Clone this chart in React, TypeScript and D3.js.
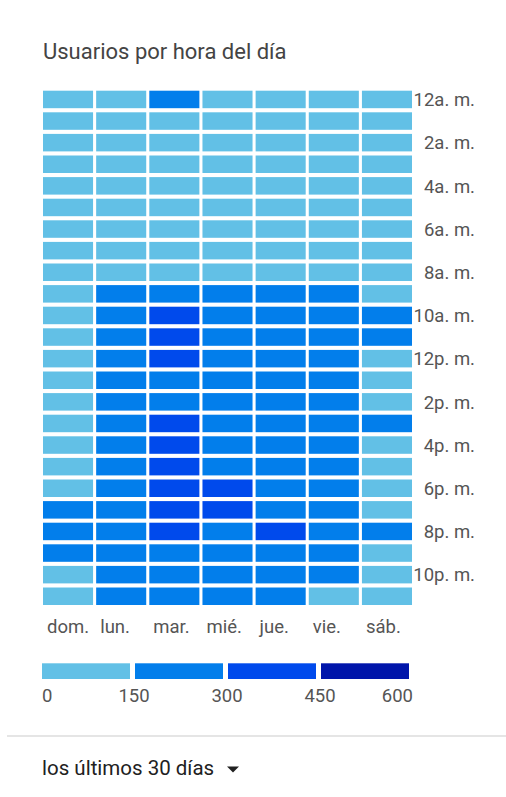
import React from 'react';
import * as d3 from 'd3';

// days of the week, Sunday first
const days = ['dom.', 'lun.', 'mar.', 'mié.', 'jue.', 'vie.', 'sáb.'];

// hour labels shown on the right, every second row
const hourLabels = [
  '12a. m.', '', '2a. m.', '', '4a. m.', '', '6a. m.', '', '8a. m.', '', '10a. m.', '',
  '12p. m.', '', '2p. m.', '', '4p. m.', '', '6p. m.', '', '8p. m.', '', '10p. m.', '',
];

// users per hour (00h .. 23h), one array per day
const dom = [95, 80, 62, 48, 40, 38, 45, 58, 85, 110, 128, 135, 140, 132, 126, 130, 136, 142, 146, 168, 182, 176, 148, 120];
const lun = [88, 60, 45, 36, 32, 40, 62, 95, 138, 205, 248, 262, 255, 238, 246, 268, 272, 276, 264, 258, 262, 244, 210, 168];
const mar = [160, 72, 50, 38, 34, 42, 66, 102, 145, 236, 318, 334, 312, 284, 292, 322, 336, 342, 338, 326, 314, 278, 232, 186];
const mie = [112, 70, 48, 36, 33, 41, 64, 98, 140, 212, 262, 270, 258, 242, 250, 272, 278, 288, 312, 306, 284, 256, 218, 172];
const jue = [118, 74, 52, 38, 34, 42, 62, 96, 136, 208, 254, 266, 252, 236, 244, 264, 270, 282, 290, 286, 318, 262, 220, 176];
const vie = [120, 78, 54, 40, 35, 40, 60, 92, 132, 198, 242, 256, 244, 226, 232, 250, 254, 260, 262, 252, 240, 216, 180, 145];
const sab = [125, 96, 72, 55, 44, 40, 46, 62, 90, 128, 158, 164, 146, 134, 138, 152, 144, 140, 136, 142, 156, 138, 130, 118];

const values = [dom, lun, mar, mie, jue, vie, sab];

// legend breaks
const legendTicks = [0, 150, 300, 450, 600];
const binColors = ['#62c0e6', '#027eeb', '#004aec', '#0015aa'];

const W = 506;
const H = 797;
const FONT = 'Roboto, "Noto Sans", sans-serif';

const App = () => {
  const hours = d3.range(24);

  const x = d3.scaleBand<number>()
    .domain(d3.range(days.length))
    .range([43, 412])
    .paddingInner(0.058);

  const y = d3.scaleBand<number>()
    .domain(hours)
    .range([90.7, 605])
    .paddingInner(0.19);

  const color = d3.scaleThreshold<number, string>()
    .domain(legendTicks.slice(1, -1))
    .range(binColors);

  const lx = d3.scaleLinear()
    .domain([0, 600])
    .range([42, 414]);

  const cells = values.flatMap((col, di) => col.map((v, h) => ({ di, h, v })));

  return (
    <div style={{ position: 'absolute', left: 0, top: 0 }}>
      <svg width={W} height={H} style={{ display: 'block', background: '#fff' }} fontFamily={FONT}>
        <text x={43} y={59} fontSize={22} fill="#444">Usuarios por hora del día</text>

        <g>
          {cells.map(c => (
            <rect
              key={`${c.di}-${c.h}`}
              x={x(c.di)}
              y={y(c.h)}
              width={x.bandwidth()}
              height={y.bandwidth()}
              fill={color(c.v)}
            />
          ))}
        </g>

        <g fontSize={18.5} fill="#555" textAnchor="end">
          {hourLabels.map((lab, h) => lab ? (
            <text key={h} x={475} y={(y(h) ?? 0) + y.bandwidth() / 2} dy="0.36em">{lab}</text>
          ) : null)}
        </g>

        <g fontSize={18.5} fill="#555">
          {days.map((d, i) => (
            <text key={d} x={(x(i) ?? 0) + 4} y={633}>{d}</text>
          ))}
        </g>

        <g>
          {binColors.map((c, i) => (
            <rect
              key={c}
              x={lx(legendTicks[i])}
              y={663.3}
              width={lx(legendTicks[i + 1]) - lx(legendTicks[i]) - 5}
              height={15.7}
              fill={c}
            />
          ))}
        </g>
        <g fontSize={18.5} fill="#555">
          {legendTicks.map((t, i) => (
            <text
              key={t}
              x={i === 0 ? lx(t) : lx(t) - 1}
              y={702}
              textAnchor={i === 0 ? 'start' : i === legendTicks.length - 1 ? 'end' : 'middle'}
            >{t}</text>
          ))}
        </g>

        <line x1={7} x2={W} y1={736} y2={736} stroke="#dcdcdc" strokeWidth={1.5} />

        <text x={42} y={775} fontSize={20.5} fill="#212121">los últimos 30 días</text>
        <path d="M227,766.5 L239,766.5 L233,772.5 Z" fill="#212121" />
      </svg>
    </div>
  );
};

export default App;
